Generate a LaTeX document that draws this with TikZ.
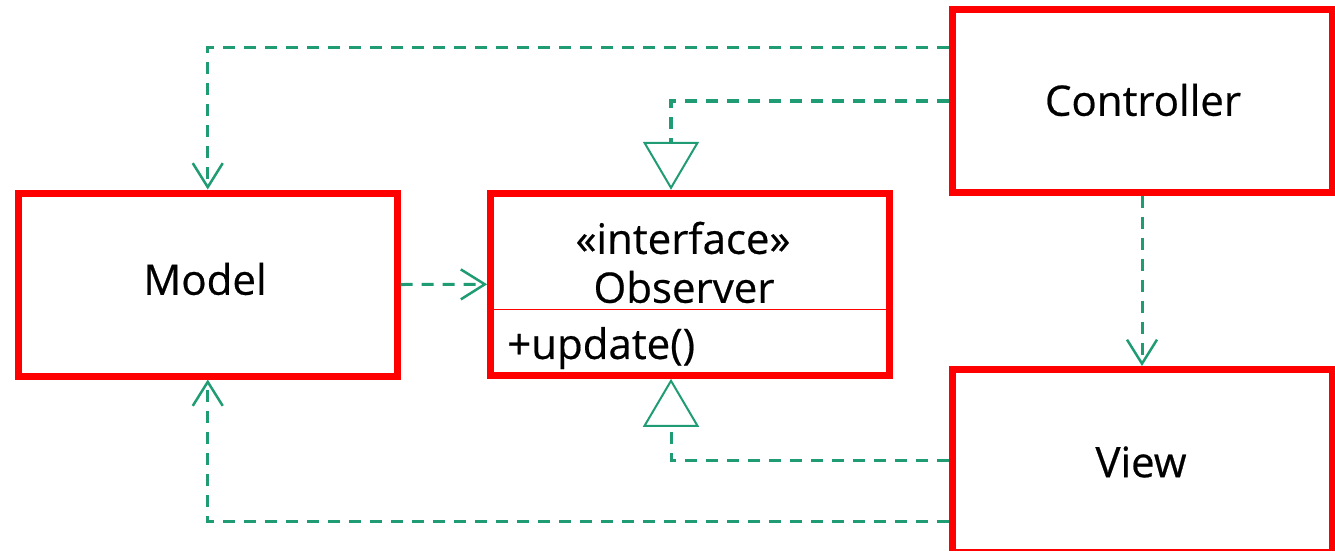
\documentclass[tikz,border=0pt]{standalone}
\usepackage{fontspec}
\setmainfont{Open Sans}[FakeBold=0.5]
\usetikzlibrary{arrows.meta,calc}
\definecolor{umlred}{RGB}{255,0,0}
\definecolor{umlgreen}{RGB}{32,156,116}
\begin{document}
\begin{tikzpicture}[x=1pt,y=-1pt,
  classbox/.style={draw=umlred, line width=7pt, fill=white, inner sep=0pt},
  txt/.style={font=\fontsize{42}{48}\selectfont, inner sep=0pt},
  dashline/.style={draw=umlgreen, line width=3pt, dash pattern=on 12pt off 9pt},
  dep/.style={dashline, -{Straight Barb[length=24pt,width=30pt,line width=2.5pt]}},
  realize/.style={dashline, -{Triangle[fill=white,length=48pt,width=56pt,line width=2pt]}}]
\useasboundingbox (0,0) rectangle (1335,550);

% classes
\node[classbox, minimum width=378.5pt, minimum height=183pt] (model) at (207.75,284.5) {};
\node[classbox, minimum width=399.3pt, minimum height=182pt] (obs) at (690.3,284.3) {};
\node[classbox, minimum width=380pt, minimum height=182.5pt] (ctrl) at (1142,100.75) {};
\node[classbox, minimum width=380pt, minimum height=182.5pt] (view) at (1142,460.75) {};

% labels
\node[txt] (modelname) at (205,279) {Model};
\node[txt] (ctrlname) at (1143,100) {Controller};
\node[txt] (viewname) at (1141,462) {View};
\node[txt] (stereo) at (683,238) {«interface»};
\node[txt] (obsname) at (684,287) {Observer};
\node[txt, anchor=west] (op) at (507,348) {+update()};

% compartment separator
\coordinate (sepL) at (490.7,309.3);
\coordinate (sepR) at (890,309.3);
\draw[umlred, line width=1pt] (sepL) -- (sepR);

% attachment points
\coordinate (obsTop) at ($(obs.north)+(-19.3,0)$);
\coordinate (obsBot) at ($(obs.south)+(-19.3,0)$);
\coordinate (ctrlOut) at ($(ctrl.north west)+(0,41)$);
\coordinate (viewOut) at ($(view.west)+(0,61)$);

% relations
\draw[dep] (ctrlOut) -| (model.north);
\draw[realize, line width=4pt] (ctrl.west) -| (obsTop);
\draw[dep] (model.east) -- (obs.west);
\draw[dep] (ctrl.south) -- (view.north);
\draw[realize] (view.west) -| (obsBot);
\draw[dep] (viewOut) -| (model.south);
\end{tikzpicture}
\end{document}
